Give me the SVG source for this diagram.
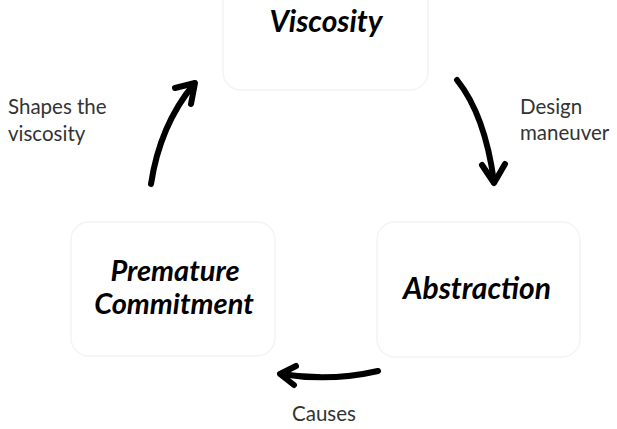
<svg xmlns="http://www.w3.org/2000/svg" width="617" height="429" viewBox="0 0 617 429">
<style>
.box{fill:#ffffff;stroke:#f4f4f4;stroke-width:1.5}
.title{font-family:Lato,"Open Sans","Liberation Sans",sans-serif;font-weight:bold;font-style:italic;font-size:30px;fill:#000}
.lab{font-family:Lato,"Open Sans","Liberation Sans",sans-serif;font-size:20.5px;fill:#333}
.arr{fill:none;stroke:#000;stroke-width:6;stroke-linecap:round;stroke-linejoin:round}
</style>
<rect width="617" height="429" fill="#fff"/>
<g id="viscosity">
<rect class="box" x="223" y="-20" width="205" height="110" rx="18"/>
<text class="title" x="326" y="32" text-anchor="middle">Viscosity</text>
</g>
<g id="premature">
<rect class="box" x="71" y="222" width="204" height="134" rx="18"/>
<text class="title" x="175" y="281" text-anchor="middle" style="font-size:29px">Premature</text>
<text class="title" x="174" y="314" text-anchor="middle" style="font-size:29px">Commitment</text>
</g>
<g id="abstraction">
<rect class="box" x="377" y="222" width="203" height="135" rx="18"/>
<text class="title" x="477" y="299" text-anchor="middle">Abstraction</text>
</g>
<g id="connectors">
<path class="arr" d="M151,184 Q160,125 194,84"/>
<path class="arr" d="M175,88 L195,83 L191,104"/>
<path class="arr" d="M457,80 Q485,115 494,182"/>
<path class="arr" d="M482,165 L494,183 L505,164"/>
<path class="arr" d="M378,371 Q330,382 281,374"/>
<path class="arr" d="M296,366 L280,374 L294,385"/>
</g>
<g id="labels">
<text class="lab" x="8" y="114">Shapes the</text>
<text class="lab" x="8" y="141">viscosity</text>
<text class="lab" x="520" y="114">Design</text>
<text class="lab" x="520" y="140">maneuver</text>
<text class="lab" x="324" y="421" text-anchor="middle">Causes</text>
</g>
</svg>
